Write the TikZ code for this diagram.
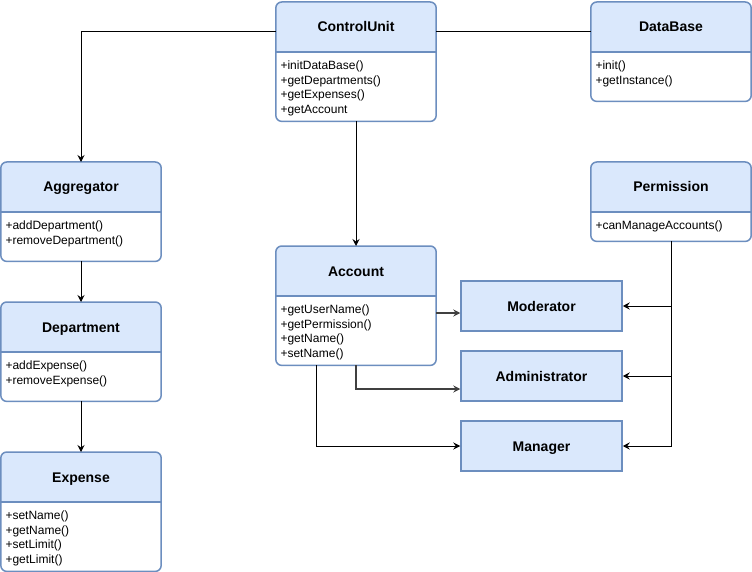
\documentclass[tikz,border=0pt]{standalone}
\usepackage{fontspec}
\setmainfont{Liberation Sans}
\usetikzlibrary{arrows.meta,positioning,calc}

\definecolor{umlfill}{HTML}{DAE8FC}
\definecolor{umlline}{HTML}{6C8EBF}

% class box: id, x, top, height, title, operations
\newcommand{\UmlClass}[6]{%
  \node[classbox, minimum height=#4, anchor=north] (#1) at (#2,#3) {};
  \begin{scope}
    \clip[rounded corners=6pt] (#1.south west) rectangle (#1.north east);
    \fill[umlfill] (#1.north west) rectangle ([yshift=-50pt]#1.north east);
  \end{scope}
  \node[classtitle] (#1-title) at ([yshift=-25pt]#1.north) {#5};
  \draw[classrule] ([yshift=-50pt]#1.north west) -- ([yshift=-50pt]#1.north east);
  \node[classops, anchor=north west] (#1-ops) at ([yshift=-59pt]#1.north west) {#6};
  \draw[classrule, rounded corners=6pt] (#1.south west) rectangle (#1.north east);
}

\begin{document}
\begin{tikzpicture}[
    x=1pt, y=-1pt,
    classbox/.style={rectangle, fill=white, minimum width=160, inner sep=0pt},
    classtitle/.style={font=\fontsize{14}{16.8}\selectfont\bfseries, minimum width=160, minimum height=50, inner sep=0pt, text height=10pt, text depth=0pt},
    classops/.style={font=\fontsize{12}{14.4}\selectfont, align=left, inner xsep=4.5pt, inner ysep=0pt},
    classrule/.style={draw=umlline, line width=1.5pt},
    rolebox/.style={rectangle, fill=umlfill, draw=umlline, line width=1.5pt, minimum width=161, minimum height=50, inner sep=0pt, font=\fontsize{14}{16.8}\selectfont\bfseries, text height=10pt, text depth=0pt},
    msg/.style={-{Stealth[length=7pt, width=7pt, inset=2.5pt]}, line width=1pt},
    softmsg/.style={draw=black!75, line width=1.3pt},
    link/.style={line width=1pt},
  ]
  \useasboundingbox (0,0) rectangle (752,572);

  % Classes
  \UmlClass{cu}{356}{2}{119}{ControlUnit}{+initDataBase()\\+getDepartments()\\+getExpenses()\\+getAccount}
  \UmlClass{db}{671}{2}{99}{DataBase}{+init()\\+getInstance()}
  \UmlClass{agg}{81}{162}{99}{Aggregator}{+addDepartment()\\+removeDepartment()}
  \UmlClass{dep}{81}{302}{99}{Department}{+addExpense()\\+removeExpense()}
  \UmlClass{exp}{81}{452}{119}{Expense}{+setName()\\+getName()\\+setLimit()\\+getLimit()}
  \UmlClass{acc}{356}{246}{119}{Account}{+getUserName()\\+getPermission()\\+getName()\\+setName()}
  \UmlClass{perm}{671}{162}{79}{Permission}{+canManageAccounts()}

  % Roles
  \node[rolebox] (mod) at (541.5,306) {Moderator};
  \node[rolebox] (adm) at (541.5,376) {Administrator};
  \node[rolebox] (man) at (541.5,446) {Manager};

  % ControlUnit links
  \draw[msg] ([yshift=-5pt]cu-title.west) -| (agg.north);
  \draw[link] ([yshift=-5pt]cu-title.east) -- ([yshift=-5pt]db-title.west);
  \draw[msg] (cu.south) -- (acc.north);

  % Aggregator chain
  \draw[msg] (agg.south) -- (dep.north);
  \draw[msg] (dep.south) -- (exp.north);

  % Account to roles
  \draw[msg, softmsg] ([yshift=-7pt]mod.west -| acc.east) -- ([yshift=-7pt]mod.west);
  \draw[msg, softmsg] (acc.south) |- ([yshift=-13pt]adm.west);
  \draw[msg] ([xshift=-40pt]acc.south) |- (man.west);

  % Permission to roles
  \foreach \role in {mod,adm,man}
    \draw[msg] (perm.south) |- (\role.east);
\end{tikzpicture}
\end{document}
